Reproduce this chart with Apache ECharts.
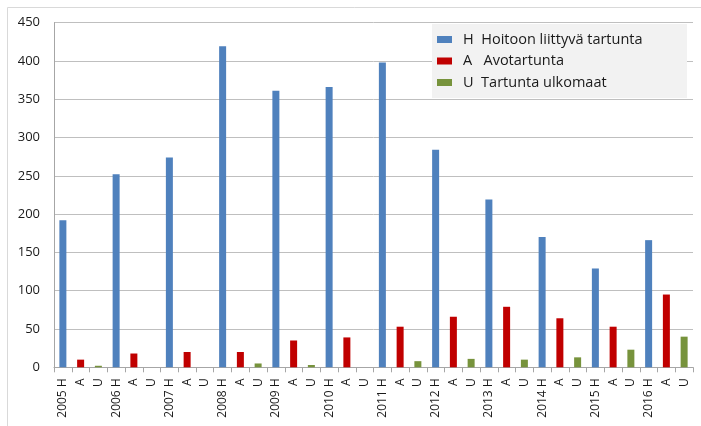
<!DOCTYPE html>
<html>
<head>
<meta charset="utf-8">
<script src="https://cdn.jsdelivr.net/npm/echarts@6/dist/echarts.min.js"></script>
<style>
  html, body { margin: 0; padding: 0; background: #fff; }
  #chart { width: 701px; height: 426px; }
</style>
</head>
<body>
<div id="chart"></div>
<script>
// Infection counts per year, split by acquisition type
const years = ['2005', '2006', '2007', '2008', '2009', '2010', '2011', '2012', '2013', '2014', '2015', '2016'];
const hValues = [192, 252, 274, 419, 361, 366, 398, 284, 219, 170, 129, 166]; // H Hoitoon liittyvä tartunta
const aValues = [10, 18, 20, 20, 35, 39, 53, 66, 79, 64, 53, 95];              // A Avotartunta
const uValues = [2, 0, 0, 5, 3, 0, 8, 11, 10, 13, 23, 40];                      // U Tartunta ulkomaat
const seriesNames = ['H  Hoitoon liittyvä tartunta', 'A   Avotartunta', 'U  Tartunta ulkomaat'];
const yTicks = { min: 0, max: 450, interval: 50 };

// Category axis: "2005 H", "A", "U", "2006 H", ...
const categories = [];
years.forEach(y => { categories.push(y + ' H', 'A', 'U'); });

// One bar per category slot: each series fills only its own slot
function slotData(values, offset) {
  const out = new Array(categories.length).fill(null);
  values.forEach((v, i) => { out[i * 3 + offset] = v; });
  return out;
}

const colors = ['#4F81BD', '#C00000', '#77933C'];
const font = '"Open Sans", "Liberation Sans", sans-serif';

const chart = echarts.init(document.getElementById('chart'), null, { renderer: 'canvas' });
chart.setOption({
  animation: false,
  textStyle: { fontFamily: font },
  grid: { left: 54, right: 8, top: 22.6, bottom: 58.7, containLabel: false },
  graphic: [
    {
      type: 'polyline', z: 1, silent: true,
      shape: { points: [[7.5, 426], [7.5, 7.5], [701, 7.5]] },
      style: { fill: null, stroke: '#d9d9d9', lineWidth: 1 }
    },
    {
      type: 'rect', z: 3, silent: true,
      shape: { x: 432, y: 24, width: 255, height: 74 },
      style: { fill: '#f2f2f2' }
    }
  ],
  legend: {
    orient: 'vertical',
    left: 432, top: 32,
    padding: [0, 0, 0, 5],
    itemWidth: 15, itemHeight: 7, itemGap: 6.5,
    icon: 'rect',
    textStyle: { fontSize: 14.5, color: '#1a1a1a', fontFamily: font, padding: [0, 0, 0, 6] },
    data: seriesNames
  },
  xAxis: {
    type: 'category',
    data: categories,
    boundaryGap: true,
    axisLine: { lineStyle: { color: '#a6a6a6' } },
    axisTick: { show: true, length: 5, alignWithLabel: false, lineStyle: { color: '#a6a6a6' } },
    axisLabel: { interval: 0, rotate: 90, fontSize: 12, color: '#1a1a1a', margin: 11, fontFamily: font },
    splitLine: { show: false }
  },
  yAxis: {
    type: 'value',
    min: yTicks.min, max: yTicks.max, interval: yTicks.interval,
    axisLine: { show: true, lineStyle: { color: '#a6a6a6' } },
    axisTick: { show: false },
    axisLabel: { fontSize: 13, color: '#1a1a1a', margin: 14, fontFamily: font },
    splitLine: { lineStyle: { color: '#bfbfbf', width: 1 } }
  },
  series: [hValues, aValues, uValues].map((vals, k) => ({
    name: seriesNames[k],
    type: 'bar',
    data: slotData(vals, k),
    barWidth: 7,
    barGap: '-100%',
    itemStyle: { color: colors[k] }
  }))
});
</script>
</body>
</html>
